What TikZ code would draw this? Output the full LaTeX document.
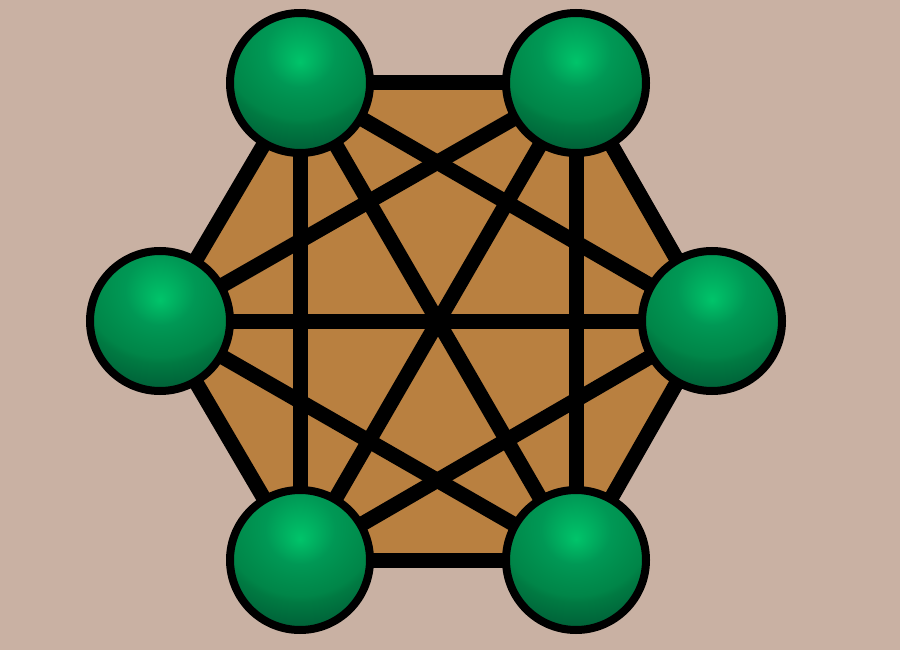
\documentclass[tikz,border=0pt]{standalone}
\definecolor{bgc}{HTML}{C9B1A3}
\definecolor{hexc}{HTML}{B98040}
\definecolor{gA}{HTML}{00C46A}
\definecolor{gB}{HTML}{009855}
\definecolor{gC}{HTML}{00904F}
\definecolor{gD}{HTML}{008548}
\definecolor{gE}{HTML}{007A42}
\definecolor{gF}{HTML}{00663A}
\definecolor{gG}{HTML}{005A32}
\pgfdeclareradialshading{greenball}{\pgfpoint{0bp}{-40bp}}{color(0bp)=(gA); color(35bp)=(gB); color(53bp)=(gC); color(79bp)=(gD); color(88bp)=(gE); color(116bp)=(gF); color(140bp)=(gG)}
\tikzset{
  edge/.style={draw=black, line width=15pt},
  ball/.style={circle, draw=black, line width=8pt, minimum size=140pt, inner sep=0pt}
}
\begin{document}
\begin{tikzpicture}[x=1pt,y=-1pt]
\fill[bgc] (0,0) rectangle (900,650);
\useasboundingbox (0,0) rectangle (900,650);
\coordinate (p1) at (300,83);
\coordinate (p2) at (576,83);
\coordinate (p3) at (712,321);
\coordinate (p4) at (576,560);
\coordinate (p5) at (300,560);
\coordinate (p6) at (160,321);
\fill[hexc] (p1) -- (p2) -- (p3) -- (p4) -- (p5) -- (p6) -- cycle;
\foreach \a/\b in {1/2,2/3,3/4,4/5,5/6,6/1,1/3,1/4,1/5,2/4,2/5,2/6,3/5,3/6,4/6}
  \draw[edge] (p\a) -- (p\b);
\foreach \i in {1,...,6}{
  \begin{scope}
    \clip (p\i) circle (67);
    \node[inner sep=0pt, outer sep=0pt] at ([yshift=61pt]p\i) {\pgfuseshading{greenball}};
  \end{scope}
  \node[ball] (n\i) at (p\i) {};
}
\end{tikzpicture}
\end{document}
